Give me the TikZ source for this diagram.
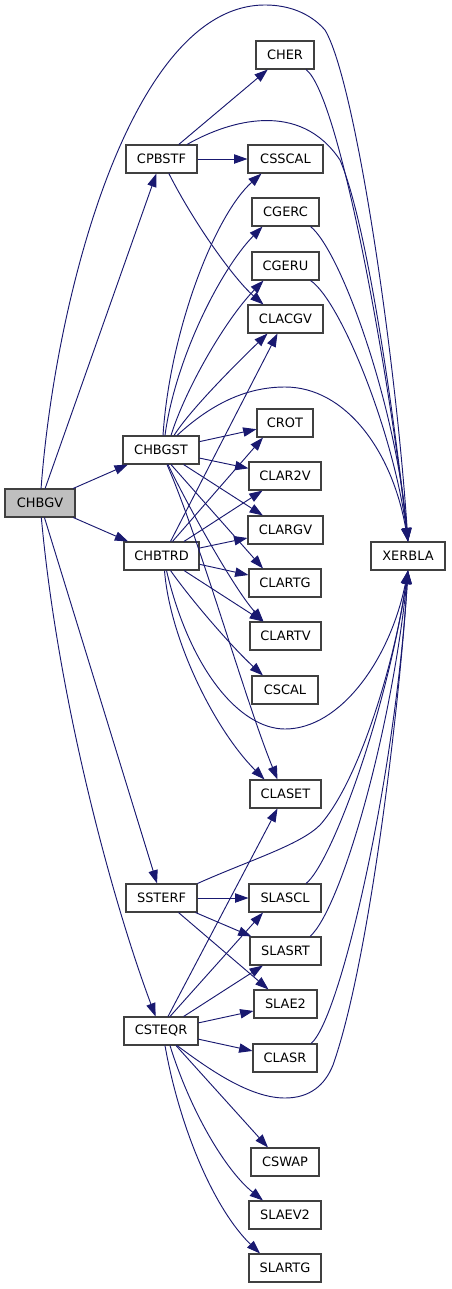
\documentclass[tikz,border=0pt]{standalone}
\usepackage{fontspec}
\setmainfont{DejaVu Sans}
\usetikzlibrary{arrows.meta,calc}
\definecolor{edgec}{HTML}{191970}
\definecolor{boxc}{HTML}{404040}
\definecolor{rootfill}{HTML}{BFBFBF}
\tikzset{
  box/.style={draw=boxc, line width=0.8pt, fill=white, minimum height=21pt, inner sep=0pt,
    font=\fontsize{9.7}{11}\selectfont, text=black},
  rootbox/.style={box, fill=rootfill},
  e/.style={draw=edgec, line width=0.7pt, -{Triangle[length=10pt,width=7pt]}}
}
\begin{document}
\begin{tikzpicture}[x=0.75pt,y=-0.75pt]
\useasboundingbox (0,0) rectangle (451,1289);
% nodes
\node[box, minimum width=43.5pt]  (CHER)   at (285,55)    {CHER};
\node[box, minimum width=53.25pt] (CPBSTF) at (161.5,159) {CPBSTF};
\node[box, minimum width=56.25pt] (CSSCAL) at (285.5,159) {CSSCAL};
\node[box, minimum width=50.25pt] (CGERC)  at (285.5,212) {CGERC};
\node[box, minimum width=50.25pt] (CGERU)  at (285.5,266) {CGERU};
\node[box, minimum width=56.25pt] (CLACGV) at (285.5,319) {CLACGV};
\node[box, minimum width=42pt]    (CROT)   at (285,423)   {CROT};
\node[box, minimum width=57pt]    (CHBGST) at (161,450)   {CHBGST};
\node[box, minimum width=54pt]    (CLAR2V) at (285,476)   {CLAR2V};
\node[rootbox, minimum width=52.5pt] (CHBGV) at (40,503)  {CHBGV};
\node[box, minimum width=56.25pt] (CLARGV) at (285.5,530) {CLARGV};
\node[box, minimum width=56.25pt] (CHBTRD) at (161.5,556) {CHBTRD};
\node[box, minimum width=55.5pt]  (XERBLA) at (408,556)   {XERBLA};
\node[box, minimum width=54pt]    (CLARTG) at (285,583)   {CLARTG};
\node[box, minimum width=53.25pt] (CLARTV) at (285.5,636) {CLARTV};
\node[box, minimum width=49.5pt]  (CSCAL)  at (285,690)   {CSCAL};
\node[box, minimum width=53.25pt] (CLASET) at (285.5,794) {CLASET};
\node[box, minimum width=53.25pt] (SSTERF) at (161.5,898) {SSTERF};
\node[box, minimum width=54pt]    (SLASCL) at (285,898)   {SLASCL};
\node[box, minimum width=53.25pt] (SLASRT) at (285.5,951) {SLASRT};
\node[box, minimum width=47.25pt] (SLAE2)  at (285.5,1004) {SLAE2};
\node[box, minimum width=55.5pt]  (CSTEQR) at (161,1031)  {CSTEQR};
\node[box, minimum width=48pt]    (CLASR)  at (285,1058)  {CLASR};
\node[box, minimum width=51pt]    (CSWAP)  at (285,1162)  {CSWAP};
\node[box, minimum width=54pt]    (SLAEV2) at (285,1215)  {SLAEV2};
\node[box, minimum width=54pt]    (SLARTG) at (285,1268)  {SLARTG};
% CHBGV
\draw[e] (CHBGV) -- (CPBSTF);
\draw[e] (CHBGV) -- (CHBGST);
\draw[e] (CHBGV) -- (CHBTRD);
\draw[e] (CHBGV) -- (SSTERF);
\draw[e] (CHBGV) .. controls (58,700) and (112,900) .. (CSTEQR);
\draw[e] (CHBGV) .. controls (55,300) and (130,5) .. (265,5) .. controls (300,5) and (318,22) .. (325,30) .. controls (355,80) and (395,350) .. (XERBLA.north);
% CPBSTF
\draw[e] (CPBSTF) -- (CHER);
\draw[e] (CPBSTF) -- (CSSCAL);
\draw[e] (CPBSTF) .. controls (230,120) and (300,100) .. (340,160) .. controls (370,230) and (398,450) .. (XERBLA.north);
\draw[e] (CPBSTF) .. controls (195,225) and (235,280) .. ($(CLACGV.north)+(-22,0)$);
% to XERBLA (top)
\draw[e] ($(CHER.south)+(21,0)$) .. controls (340,95) and (390,380) .. (XERBLA.north);
\draw[e] ($(CGERC.south)+(25,0)$) .. controls (340,250) and (395,400) .. (XERBLA.north);
\draw[e] ($(CGERU.south)+(25,0)$) .. controls (340,300) and (393,430) .. (XERBLA.north);
% CHBGST
\draw[e] ($(CHBGST.north)+(2,0)$) .. controls (170,330) and (215,215) .. ($(CSSCAL.south)+(-24,0)$);
\draw[e] ($(CHBGST.north)+(4,0)$) .. controls (175,360) and (220,270) .. ($(CGERC.south)+(-23,0)$);
\draw[e] ($(CHBGST.north)+(10,0)$) .. controls (185,390) and (225,320) .. ($(CGERU.south)+(-22,0)$);
\draw[e] ($(CHBGST.north)+(13,0)$) .. controls (190,410) and (235,365) .. ($(CLACGV.south)+(-18,0)$);
\draw[e] ($(CHBGST.north)+(16,0)$) .. controls (210,405) and (245,387) .. (285,387) .. controls (345,387) and (392,450) .. (XERBLA.north);
\draw[e] (CHBGST) -- (CROT);
\draw[e] (CHBGST) -- (CLAR2V);
\draw[e] (CHBGST) -- (CLARGV);
\draw[e] ($(CHBGST.south)+(10,0)$) -- ($(CLARTG.north)+(-22,0)$);
\draw[e] ($(CHBGST.south)+(7,0)$) .. controls (190,510) and (235,590) .. ($(CLARTV.north)+(-22,0)$);
\draw[e] ($(CHBGST.south)+(6,0)$) .. controls (200,540) and (245,700) .. ($(CLASET.north)+(-8,0)$);
% CHBTRD
\draw[e] ($(CHBTRD.north)+(9,0)$) -- ($(CLACGV.south)+(-8,0)$);
\draw[e] ($(CHBTRD.north)+(11,0)$) -- ($(CROT.south)+(-22,0)$);
\draw[e] (CHBTRD) -- (CLAR2V);
\draw[e] (CHBTRD) -- (CLARGV);
\draw[e] (CHBTRD) -- (CLARTG);
\draw[e] (CHBTRD) -- (CLARTV);
\draw[e] ($(CHBTRD.south)+(9,0)$) .. controls (195,605) and (235,650) .. ($(CSCAL.north)+(-22,0)$);
\draw[e] ($(CHBTRD.south)+(3,0)$) .. controls (170,640) and (215,730) .. ($(CLASET.north)+(-21,0)$);
\draw[e] ($(CHBTRD.south)+(5,0)$) .. controls (190,670) and (240,729) .. (285,729) .. controls (340,729) and (390,660) .. (XERBLA.south);
% SSTERF
\draw[e] (SSTERF.north east) .. controls (250,860) and (300,845) .. (320,825) .. controls (360,780) and (395,660) .. (XERBLA.south);
\draw[e] (SSTERF) -- (SLASCL);
\draw[e] (SSTERF) -- (SLASRT);
\draw[e] (SSTERF) -- (SLAE2);
% CSTEQR
\draw[e] ($(CSTEQR.north)+(7,0)$) -- ($(CLASET.south)+(-8,0)$);
\draw[e] ($(CSTEQR.north)+(9,0)$) -- ($(SLASCL.south)+(-22,0)$);
\draw[e] (CSTEQR) -- (SLASRT);
\draw[e] (CSTEQR) -- (SLAE2);
\draw[e] (CSTEQR) -- (CLASR);
\draw[e] ($(CSTEQR.south)+(16,0)$) .. controls (210,1070) and (250,1098) .. (285,1098) .. controls (310,1098) and (325,1085) .. (333,1065) .. controls (370,960) and (400,700) .. (XERBLA.south);
\draw[e] ($(CSTEQR.south)+(15,0)$) -- ($(CSWAP.north)+(-17,0)$);
\draw[e] ($(CSTEQR.south)+(9,0)$) .. controls (190,1110) and (225,1170) .. ($(SLAEV2.north)+(-22,0)$);
\draw[e] ($(CSTEQR.south)+(4,0)$) .. controls (180,1130) and (215,1210) .. ($(SLARTG.north)+(-25,0)$);
% to XERBLA (bottom)
\draw[e] ($(SLASCL.north)+(21,0)$) .. controls (330,865) and (385,720) .. (XERBLA.south);
\draw[e] ($(SLASRT.north)+(24.5,0)$) .. controls (340,910) and (390,740) .. (XERBLA.south);
\draw[e] ($(CLASR.north)+(26,0)$) .. controls (340,1020) and (395,780) .. (XERBLA.south);
\end{tikzpicture}
\end{document}
